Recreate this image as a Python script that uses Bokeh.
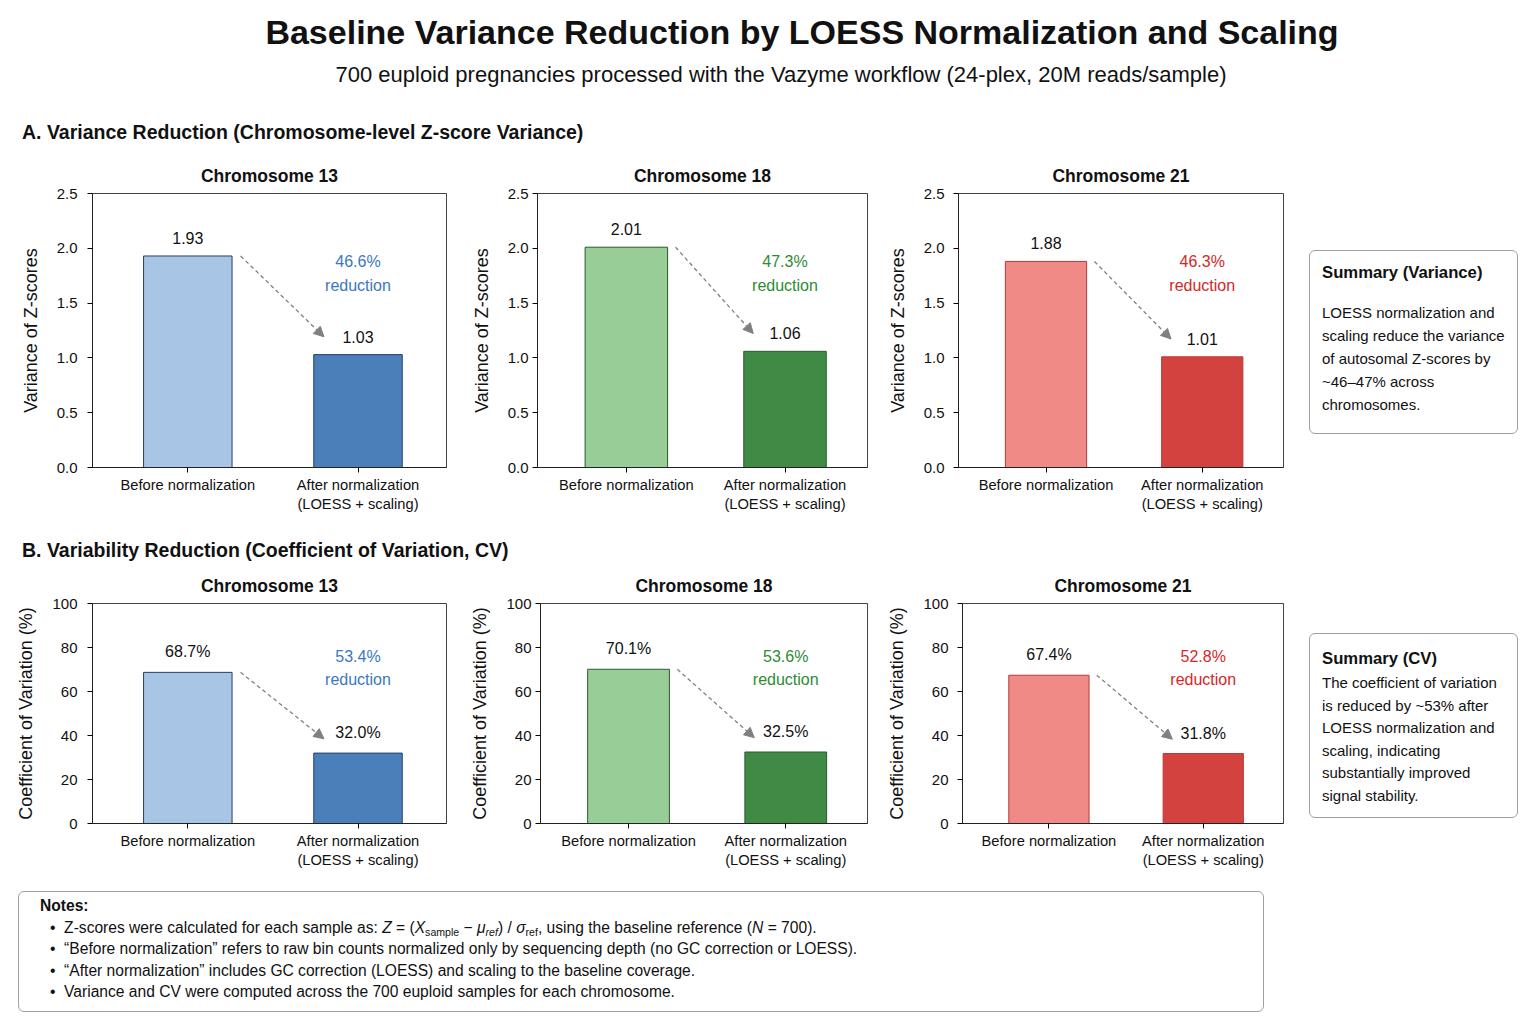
from bokeh.plotting import figure
from bokeh.models import (ColumnDataSource, Range1d, FixedTicker, PrintfTickFormatter,
                          Arrow, NormalHead, Div)
from bokeh.layouts import column, row
from bokeh.embed import file_html
from bokeh.resources import INLINE
from bokeh.core.properties import value

# ---------------- data ----------------
TITLE = "Baseline Variance Reduction by LOESS Normalization and Scaling"
SUBTITLE = "700 euploid pregnancies processed with the Vazyme workflow (24-plex, 20M reads/sample)"
SECTION_A = "A. Variance Reduction (Chromosome-level Z-score Variance)"
SECTION_B = "B. Variability Reduction (Coefficient of Variation, CV)"

chromosomes = ["Chromosome 13", "Chromosome 18", "Chromosome 21"]
conditions = ["Before normalization", "After normalization\n(LOESS + scaling)"]

var_before = [1.93, 2.01, 1.88]
var_after = [1.03, 1.06, 1.01]
var_reduction = [46.6, 47.3, 46.3]

cv_before = [68.7, 70.1, 67.4]
cv_after = [32.0, 32.5, 31.8]
cv_reduction = [53.4, 53.6, 52.8]

var_ticks = [0, 0.5, 1.0, 1.5, 2.0, 2.5]
cv_ticks = [0, 20, 40, 60, 80, 100]

summary_var_title = "Summary (Variance)"
summary_var_lines = ["LOESS normalization and", "scaling reduce the variance",
                     "of autosomal Z-scores by", "~46\u201347% across", "chromosomes."]
summary_cv_title = "Summary (CV)"
summary_cv_lines = ["The coefficient of variation", "is reduced by ~53% after",
                    "LOESS normalization and", "scaling, indicating",
                    "substantially improved", "signal stability."]

SUB = '<sub style="font-size:68%;line-height:0;vertical-align:-0.3em;">'
notes_lines = [
    f"Z-scores were calculated for each sample as: <i>Z</i> = (<i>X</i>{SUB}sample</sub> \u2212 <i>\u03bc</i>{SUB}<i>ref</i></sub>) / <i>\u03c3</i>{SUB}ref</sub>, using the baseline reference (<i>N</i> = 700).",
    "\u201cBefore normalization\u201d refers to raw bin counts normalized only by sequencing depth (no GC correction or LOESS).",
    "\u201cAfter normalization\u201d includes GC correction (LOESS) and scaling to the baseline coverage.",
    "Variance and CV were computed across the 700 euploid samples for each chromosome.",
]

# ---------------- style ----------------
FONT = "Liberation Sans"
light_colors = ["#a9c5e6", "#98cd98", "#f08a86"]
dark_colors = ["#4a7fba", "#3f8b45", "#d44240"]
edge_colors = ["#27405f", "#2b5a2f", "#b83a38"]
accent_colors = ["#3a78c2", "#2e8b35", "#d62728"]

col_widths = [467, 417, 416]
border_left = [92, 70, 70]
frame_widths = [354, 330, 329]
ylab_standoff = [10, 4, 9]


def make_panel(i, before, after, reduction, ymax, ticks, fmt, ylabel, frame_h, pct):
    W = col_widths[i]
    L = border_left[i]
    R = W - L - frame_widths[i]
    top, bottom = 40, 53
    p = figure(width=W, height=top + frame_h + bottom,
               x_range=Range1d(-0.56, 1.52), y_range=Range1d(0, ymax),
               output_backend="svg", toolbar_location=None,
               min_border_left=L, min_border_right=R,
               min_border_top=top, min_border_bottom=bottom,
               title=chromosomes[i])
    p.title.align = "center"
    p.title.text_font = FONT
    p.title.text_font_size = "17.5px"
    p.title.text_font_style = "bold"
    p.title.text_color = "#111111"
    p.title.standoff = 16
    p.xgrid.visible = False
    p.ygrid.visible = False
    p.outline_line_color = "#444444"
    p.outline_line_width = 1
    p.background_fill_color = "white"
    p.border_fill_color = "white"

    fmt_txt = (lambda v: f"{v:.1f}%") if pct else (lambda v: f"{v:.2f}")
    src = ColumnDataSource(dict(
        x=[0, 1], top=[before, after],
        fill=[light_colors[i], dark_colors[i]],
        line=[edge_colors[i], edge_colors[i]],
        lab=[fmt_txt(before), fmt_txt(after)],
    ))
    p.vbar(x="x", top="top", width=0.52, fill_color="fill", line_color="line",
           line_width=1, source=src)
    p.text(x="x", y="top", text="lab", source=src, text_align="center",
           text_baseline="bottom", y_offset=-12, text_font=value(FONT),
           text_font_size="16px", text_color="#111111")
    p.text(x=[1], y=[0.707 * ymax], text=[f"{reduction:.1f}%\nreduction"],
           text_align="center", text_baseline="middle", text_line_height=1.4,
           text_font=value(FONT), text_font_size="16px", text_color=accent_colors[i])
    p.add_layout(Arrow(end=NormalHead(size=10, fill_color="#808080", line_color="#808080",
                                      line_width=1),
                       x_start=0.31, y_start=before, x_end=0.8, y_end=after + 0.065 * ymax,
                       line_color="#808080", line_dash="4 3", line_width=1.3))

    xa = p.xaxis[0]
    xa.ticker = FixedTicker(ticks=[0, 1])
    xa.major_label_overrides = {0: conditions[0], 1: conditions[1]}
    xa.major_label_text_font = FONT
    xa.major_label_text_font_size = "14.7px"
    xa.major_label_text_color = "#111111"
    xa.major_label_standoff = 4
    xa.major_tick_out = 5
    xa.major_tick_in = 0
    xa.minor_tick_line_color = None
    xa.axis_line_color = "#222222"

    ya = p.yaxis[0]
    ya.ticker = FixedTicker(ticks=ticks)
    ya.formatter = PrintfTickFormatter(format=fmt)
    ya.major_label_text_font = FONT
    ya.major_label_text_font_size = "15px"
    ya.major_label_text_color = "#111111"
    ya.major_label_standoff = ylab_standoff[i]
    ya.major_tick_out = 5
    ya.major_tick_in = 0
    ya.minor_tick_line_color = None
    ya.axis_line_color = "#222222"
    ya.axis_label = ylabel
    ya.axis_label_text_font = FONT
    ya.axis_label_text_font_size = "18px"
    ya.axis_label_text_font_style = "normal"
    ya.axis_label_text_color = "#111111"
    ya.axis_label_standoff = 13
    return p


row1_figs = [make_panel(i, var_before[i], var_after[i], var_reduction[i], 2.5, var_ticks,
                        "%.1f", "Variance of Z-scores", 274, False) for i in range(3)]
row2_figs = [make_panel(i, cv_before[i], cv_after[i], cv_reduction[i], 100, cv_ticks,
                        "%d", "Coefficient of Variation (%)", 220, True) for i in range(3)]

BASE = f"font-family:'{FONT}',Arial,sans-serif;color:#111;"

header_html = f"""
<div style="position:relative;width:1536px;height:153px;{BASE}">
  <div style="position:absolute;left:802px;top:12px;transform:translateX(-50%);white-space:nowrap;
              font-size:34px;line-height:40px;font-weight:bold;">{TITLE}</div>
  <div style="position:absolute;left:781px;top:62px;transform:translateX(-50%);white-space:nowrap;
              font-size:22px;line-height:26px;">{SUBTITLE}</div>
  <div style="position:absolute;left:22px;top:120px;white-space:nowrap;
              font-size:19.5px;line-height:24px;font-weight:bold;">{SECTION_A}</div>
</div>"""
header = Div(text=header_html, width=1536, height=153, margin=0)

secB_html = f"""
<div style="position:relative;width:1536px;height:43px;{BASE}">
  <div style="position:absolute;left:22px;top:18px;white-space:nowrap;
              font-size:19.5px;line-height:24px;font-weight:bold;">{SECTION_B}</div>
</div>"""
secB = Div(text=secB_html, width=1536, height=43, margin=0)


def summary_div(title, lines, height, box_top, box_h, pad_top, gap, lh):
    body = "<br>".join(lines)
    html = f"""
<div style="position:relative;width:236px;height:{height}px;{BASE}">
  <div style="position:absolute;left:9px;top:{box_top}px;width:209px;height:{box_h}px;
              box-sizing:border-box;border:1px solid #a0a0a0;border-radius:6px;
              padding:{pad_top}px 0 0 12px;white-space:nowrap;">
    <div style="font-size:16.7px;line-height:20px;font-weight:bold;">{title}</div>
    <div style="margin-top:{gap}px;font-size:15px;line-height:{lh}px;">{body}</div>
  </div>
</div>"""
    return Div(text=html, width=236, height=height, margin=0)


summ1 = summary_div(summary_var_title, summary_var_lines, 367, 97, 184, 12, 18, 23)
summ2 = summary_div(summary_cv_title, summary_cv_lines, 313, 70, 185, 15, 3, 22.5)

bullets = "".join(
    f'<div style="padding-left:10px;white-space:nowrap;height:21.5px;">\u2022&nbsp;&nbsp;{t}</div>'
    for t in notes_lines)
notes_html = f"""
<div style="position:relative;width:1536px;height:148px;{BASE}">
  <div style="position:absolute;left:18px;top:15px;width:1246px;height:121px;
              box-sizing:border-box;border:1px solid #a0a0a0;border-radius:6px;
              padding:3px 0 0 21px;font-size:15.6px;line-height:21.5px;">
    <div style="font-weight:bold;">Notes:</div>
    {bullets}
  </div>
</div>"""
notes = Div(text=notes_html, width=1536, height=148, margin=0)

layout = column(
    header,
    row(*row1_figs, summ1),
    secB,
    row(*row2_figs, summ2),
    notes,
)

open("out.html", "w").write(file_html(layout, INLINE))
